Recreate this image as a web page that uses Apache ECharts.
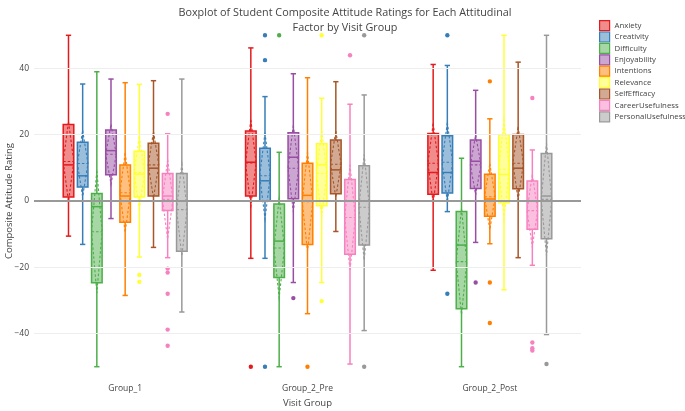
<!DOCTYPE html>
<html><head><meta charset="utf-8">
<script src="https://cdn.jsdelivr.net/npm/echarts@6/dist/echarts.min.js"></script>
<style>html,body{margin:0;padding:0;background:#fff}#c{width:685px;height:411px}</style>
</head><body><div id="c"></div>
<script>
const groups = ['Group_1', 'Group_2_Pre', 'Group_2_Post'];
const factors = ['Anxiety', 'Creativity', 'Difficulty', 'Enjoyability', 'Intentions', 'Relevance', 'SelfEfficacy', 'CareerUsefulness', 'PersonalUsefulness'];
const colors = ['#e41a1c', '#377eb8', '#4daf4a', '#984ea3', '#ff7f00', '#ffff33', '#a65628', '#f781bf', '#999999'];
const yTicks = [-40, -20, 0, 20, 40];

// per group: [lowerWhisker, q1, median, q3, upperWhisker, mean, sd]
const anxietyStats = [[-10.6, 1.2, 10.9, 23.1, 50, 11.9, 12], [-17.3, 1.5, 11.7, 21.1, 46.2, 11.5, 13], [-20.9, 2.0, 8.6, 20.4, 41.2, 11.4, 12]];
const creativityStats = [[-13.1, 4.2, 7.6, 17.7, 35.3, 11.3, 10], [-17.3, 0.1, 6.1, 15.9, 31.5, 7.6, 13], [-3.2, 2.4, 8.6, 19.7, 40.9, 11.7, 12]];
const difficultyStats = [[-50, -24.7, -1.7, 2.3, 39, -9.3, 18.5], [-50, -23.1, -12.1, -0.9, 14.7, -14.2, 15], [-50, -32.5, -13.3, -3.2, 12.9, -18.3, 16]];
const enjoyabilityStats = [[-5.3, 7.9, 15.2, 21.4, 36.8, 14.1, 9], [-24.6, 0.7, 13.2, 20.6, 38.4, 9.9, 13], [-12.5, 3.8, 12.0, 18.4, 33.4, 10.9, 9]];
const intentionsStats = [[-28.5, -6.4, 1.5, 10.9, 35.7, 2.5, 12], [-34, -13.1, 1.7, 11.4, 37.2, -0.2, 15], [-12.9, -4.6, 0.6, 8.1, 24.8, 1.3, 10]];
const relevanceStats = [[-16.9, 1.2, 8.1, 15.0, 35.2, 8.6, 11], [-24.6, -1.4, 10.9, 17.3, 31, 8.3, 13], [-26.8, -0.5, 8.0, 20, 50, 9.6, 15]];
const selfEfficacyStats = [[-14.0, 1.5, 9.9, 17.4, 36.3, 10.9, 10], [-9.2, 2.2, 9.4, 18.4, 36, 11.1, 10], [-17.1, 3.7, 9.9, 20.1, 41.9, 11.4, 11]];
const careerStats = [[-17.1, -2.9, 1.5, 8.3, 20.3, 0.5, 12], [-49.2, -16.1, 0, 6.5, 29.2, -5.0, 16], [-19.4, -8.5, 0, 6.0, 15.4, -2.9, 11]];
const personalStats = [[-33.5, -15.2, 0, 8.3, 36.8, -2.6, 14], [-39.1, -13.3, 0, 10.6, 32, -1.9, 16], [-40.3, -11.4, 1.5, 14.3, 50, 0.5, 17]];

// outliers: [groupIndex, value]
const anxietyOut = [[1, -50]];
const creativityOut = [[1, 50], [1, 42.5], [1, -50], [2, 50], [2, -28]];
const difficultyOut = [[1, 50]];
const enjoyabilityOut = [[1, -29.3], [2, -24.6]];
const intentionsOut = [[1, -50], [2, 36.1], [2, -24.6], [2, -36.8]];
const relevanceOut = [[0, -22.3], [0, -24.4], [1, 50], [1, -30.2]];
const selfEfficacyOut = [];
const careerOut = [[0, 26.3], [0, -20.4], [0, -21.6], [0, -28.0], [0, -38.8], [0, -43.7], [1, 44], [2, 31.1], [2, -42.7], [2, -44.4], [2, -45.1]];
const personalOut = [[1, 50], [1, -50], [2, -49.2]];

const allStats = [anxietyStats, creativityStats, difficultyStats, enjoyabilityStats, intentionsStats, relevanceStats, selfEfficacyStats, careerStats, personalStats];
const allOut = [anxietyOut, creativityOut, difficultyOut, enjoyabilityOut, intentionsOut, relevanceOut, selfEfficacyOut, careerOut, personalOut];

function alpha(hex, a) {
  const n = parseInt(hex.slice(1), 16);
  return 'rgba(' + ((n >> 16) & 255) + ',' + ((n >> 8) & 255) + ',' + (n & 255) + ',' + a + ')';
}
const STEP = 0.0777, HALF = 0.029;

function boxRender(idx) {
  return function (params, api) {
    const g = api.value(0);
    const band = api.size([1, 0])[0];
    const cx = api.coord([g, 0])[0] + (idx - 4) * band * STEP;
    const hw = band * HALF, cw = hw * 0.5;
    const Y = v => api.coord([g, v])[1];
    const lo = Y(api.value(1)), q1 = Y(api.value(2)), md = Y(api.value(3)), q3 = Y(api.value(4)), hi = Y(api.value(5));
    const mean = api.value(6), sd = api.value(7);
    const mn = Y(mean), sT = Y(mean + sd), sB = Y(mean - sd);
    const col = colors[idx];
    const ln = { stroke: col, lineWidth: 1.5, fill: null };
    const ds = { stroke: col, lineWidth: 1.1, lineDash: [2.5, 2], fill: null };
    return {
      type: 'group', children: [
        { type: 'line', shape: { x1: cx, y1: hi, x2: cx, y2: q3 }, style: ln },
        { type: 'line', shape: { x1: cx, y1: q1, x2: cx, y2: lo }, style: ln },
        { type: 'line', shape: { x1: cx - cw, y1: hi, x2: cx + cw, y2: hi }, style: ln },
        { type: 'line', shape: { x1: cx - cw, y1: lo, x2: cx + cw, y2: lo }, style: ln },
        { type: 'rect', shape: { x: cx - hw, y: q3, width: 2 * hw, height: q1 - q3 }, style: { fill: alpha(col, 0.5), stroke: col, lineWidth: 1.5 } },
        { type: 'polygon', shape: { points: [[cx, sT], [cx + hw, mn], [cx, sB], [cx - hw, mn]] }, style: ds },
        { type: 'line', shape: { x1: cx - hw, y1: mn, x2: cx + hw, y2: mn }, style: ds },
        { type: 'line', shape: { x1: cx - hw, y1: md, x2: cx + hw, y2: md }, style: ln }
      ]
    };
  };
}
function outRender(idx) {
  return function (params, api) {
    const g = api.value(0);
    const band = api.size([1, 0])[0];
    const cx = api.coord([g, 0])[0] + (idx - 4) * band * STEP;
    const cy = api.coord([g, api.value(1)])[1];
    return { type: 'circle', shape: { cx: cx, cy: cy, r: 2.2 }, style: { fill: colors[idx] } };
  };
}

const series = [{
  type: 'line', data: [], silent: true, z: 1,
  markLine: {
    silent: true, symbol: 'none', label: { show: false },
    data: yTicks.map(v => ({ yAxis: v, lineStyle: v === 0 ? { color: '#999', width: 2, type: 'solid' } : { color: '#eeeeee', width: 1, type: 'solid' } }))
  }
}];
factors.forEach((f, i) => {
  series.push({
    type: 'custom', name: f, z: 3,
    renderItem: boxRender(i),
    encode: { x: 0, y: [1, 2, 3, 4, 5] },
    data: allStats[i].map((s, g) => [g].concat(s))
  });
  series.push({
    type: 'custom', name: f, z: 4,
    renderItem: outRender(i),
    encode: { x: 0, y: 1 },
    data: allOut[i]
  });
});

const chart = echarts.init(document.getElementById('c'), null, { renderer: 'canvas' });
chart.setOption({
  animation: false,
  textStyle: { fontFamily: 'Open Sans' },
  title: {
    text: 'Boxplot of Student Composite Attitude Ratings for Each Attitudinal\nFactor by Visit Group',
    left: 345, top: 5, textAlign: 'center', padding: 0,
    textStyle: { fontFamily: 'Open Sans', fontSize: 10.8, fontWeight: 'normal', color: '#444', lineHeight: 15 }
  },
  legend: {
    orient: 'vertical', left: 599, top: 20, padding: 0,
    itemWidth: 10, itemHeight: 10, itemGap: 0.2,
    textStyle: { fontFamily: 'Open Sans', fontSize: 7.8, color: '#444', lineHeight: 10 },
    data: factors.map((f, i) => ({ name: f, icon: 'rect', itemStyle: { color: alpha(colors[i], 0.5), borderColor: colors[i], borderWidth: 1.2 } }))
  },
  grid: { left: 34, right: 104, top: 30, bottom: 39, containLabel: false, outerBoundsMode: 'none' },
  xAxis: {
    type: 'category', data: groups,
    name: 'Visit Group', nameLocation: 'middle', nameGap: 26,
    nameTextStyle: { fontFamily: 'Open Sans', fontSize: 9.5, color: '#444' },
    axisLine: { show: false }, axisTick: { show: false }, splitLine: { show: false },
    axisLabel: { fontFamily: 'Open Sans', fontSize: 8.5, color: '#444', margin: 12 }
  },
  yAxis: {
    type: 'value', min: -51.6, max: 51.6,
    name: 'Composite Attitude Rating', nameLocation: 'middle', nameGap: 20, nameMoveOverlap: false,
    nameTextStyle: { fontFamily: 'Open Sans', fontSize: 9.5, color: '#444' },
    axisLine: { show: false }, axisTick: { show: false }, splitLine: { show: false },
    axisLabel: { customValues: yTicks, fontFamily: 'Open Sans', fontSize: 8.5, color: '#444', margin: 5,
      formatter: v => (v < 0 ? '\u2212' + Math.abs(v) : String(v)) }
  },
  series: series
});
</script>
</body></html>
